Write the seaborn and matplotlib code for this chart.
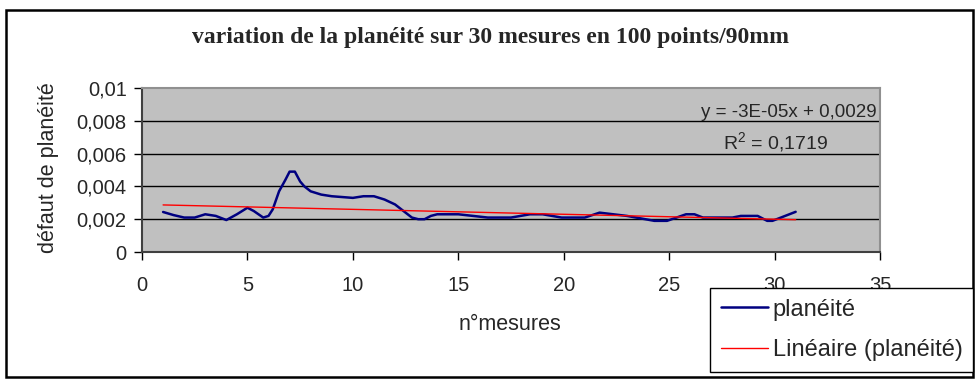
import matplotlib
matplotlib.use("Agg")
import matplotlib.pyplot as plt
import seaborn as sns
import numpy as np
import pandas as pd
from matplotlib.patches import Rectangle
from matplotlib.lines import Line2D

# ---- data ----
mesure = [1, 1.5, 2, 2.5, 3, 3.5, 4, 4.5, 5, 5.3, 5.75, 6.0, 6.2, 6.5, 6.8, 7.0, 7.25,
          7.5, 7.7, 8.0, 8.5, 9.0, 10.0, 10.5, 11.0, 11.5, 12.0, 12.5, 12.8, 13.1, 13.4,
          13.7, 14.0, 15.0, 16.4, 17.5, 18.4, 19.0, 19.9, 21.0, 21.7, 23.0, 24.3, 24.9,
          25.8, 26.2, 26.6, 27.5, 28.0, 28.4, 29.2, 29.65, 29.9, 31.0]
planeite = [0.00244, 0.00225, 0.0021, 0.0021, 0.0023, 0.0022, 0.00195, 0.0023, 0.0027,
            0.0025, 0.0021, 0.0022, 0.0026, 0.0037, 0.0044, 0.0049, 0.0049,
            0.0043, 0.0040, 0.0037, 0.0035, 0.0034, 0.0033, 0.0034, 0.0034, 0.0032,
            0.0029, 0.0024, 0.0021, 0.0020, 0.0020,
            0.0022, 0.0023, 0.0023, 0.0021, 0.0021, 0.0023, 0.0023, 0.0021, 0.0021,
            0.0024, 0.0022, 0.0019, 0.0019,
            0.0023, 0.0023, 0.0021, 0.0021, 0.0021, 0.0022, 0.0022, 0.0019, 0.0019, 0.00245]
trend_slope = -3e-05
trend_intercept = 0.0029
trend_x = [1, 31]
y_ticks = [0, 0.002, 0.004, 0.006, 0.008, 0.01]
y_tick_labels = ["0", "0,002", "0,004", "0,006", "0,008", "0,01"]
x_ticks = [0, 5, 10, 15, 20, 25, 30, 35]
title = "variation de la planéité sur 30 mesures en 100 points/90mm"
equation = "y = -3E-05x + 0,0029"
r2_text = "R$^2$ = 0,1719"

df = pd.DataFrame({"mesure": mesure, "planeite": planeite})
df_trend = pd.DataFrame({"mesure": trend_x,
                         "val": [trend_slope * v + trend_intercept for v in trend_x]})

sns.set_theme(style="white")
plt.rcParams["font.family"] = ["Liberation Sans", "DejaVu Sans"]
plt.rcParams["mathtext.fontset"] = "custom"
plt.rcParams["mathtext.rm"] = "Liberation Sans"
plt.rcParams["mathtext.it"] = "Liberation Sans"
plt.rcParams["mathtext.default"] = "regular"

W, H = 975, 380
fig = plt.figure(figsize=(W / 100, H / 100), dpi=100)
fig.patch.set_facecolor("white")

# outer chart frame
fig.add_artist(Rectangle((6 / W, 3 / H), (W - 8) / W, (H - 13) / H, transform=fig.transFigure,
                         fill=False, edgecolor="black", linewidth=1.8))

ax = fig.add_axes([142 / W, 1 - 252 / H, (880 - 142) / W, (252 - 88) / H])
ax.set_facecolor("#C0C0C0")

sns.lineplot(data=df, x="mesure", y="planeite", ax=ax, color="#000080", linewidth=1.8)
sns.lineplot(data=df_trend, x="mesure", y="val", ax=ax, color="#FF0000", linewidth=1.0)

ax.set_xlim(0, 35)
ax.set_ylim(0, 0.01)
ax.set_xticks(x_ticks)
ax.set_xticklabels([str(t) for t in x_ticks], fontsize=14.5)
ax.set_yticks(y_ticks)
ax.set_yticklabels(y_tick_labels, fontsize=14.5)
for yv in y_ticks[1:-1]:
    ax.axhline(yv, color="black", linewidth=1.0, zorder=0.5)

ax.tick_params(axis="both", which="major", direction="out", length=6, width=1,
               color="black", bottom=True, left=True)
ax.tick_params(axis="x", pad=11)
ax.tick_params(axis="y", pad=5)
for side in ["left", "bottom"]:
    ax.spines[side].set_color("#404040")
    ax.spines[side].set_linewidth(1.5)
for side in ["top", "right"]:
    ax.spines[side].set_color("#909090")
    ax.spines[side].set_linewidth(1.5)

ax.set_xlabel("n°mesures", fontsize=15.5)
ax.xaxis.set_label_coords((510 - 142) / 738, (252 - 314) / 164)
ax.set_ylabel("défaut de planéité", fontsize=15.5)
ax.yaxis.set_label_coords((59 - 142) / 738, (252 - 168) / 164)

ax.text(0.9955, 0.848, equation, transform=ax.transAxes, ha="right", va="center", fontsize=13.5)
ax.text(0.858, 0.67, r2_text, transform=ax.transAxes, ha="center", va="center", fontsize=14)

fig.text(490 / W, 1 - 38 / H, title, ha="center", va="center", fontsize=17,
         fontweight="bold", family=["Liberation Serif", "DejaVu Serif"])

handles = [Line2D([], [], color="#000080", linewidth=1.8),
           Line2D([], [], color="#FF0000", linewidth=1.0)]
leg = fig.legend(handles, ["planéité", "Linéaire (planéité)"], loc="upper left",
                 bbox_to_anchor=(710 / W, 1 - 288 / H), fontsize=17, frameon=True,
                 fancybox=False, handlelength=2.0, handletextpad=0.2, labelspacing=0.78,
                 borderpad=0.45, borderaxespad=0)
leg.get_frame().set_edgecolor("black")
leg.get_frame().set_linewidth(1.0)
leg.get_frame().set_facecolor("white")
leg.get_frame().set_alpha(1)

fig.savefig("out.png", dpi=100)
